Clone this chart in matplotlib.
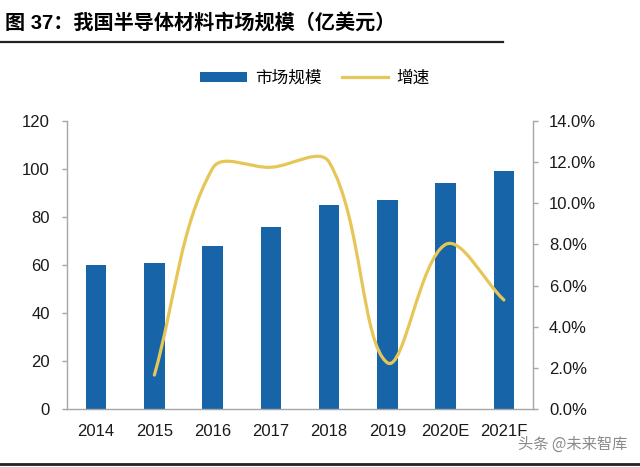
import numpy as np
import matplotlib
matplotlib.use("Agg")
import matplotlib.pyplot as plt
from matplotlib.path import Path
from matplotlib.patches import PathPatch
from matplotlib.lines import Line2D

plt.rcParams["font.family"] = ["Liberation Sans", "Noto Sans CJK SC"]

# -----------------------------
# Data
# -----------------------------
years = ["2014", "2015", "2016", "2017", "2018", "2019", "2020E", "2021F"]
market_size = [60, 61, 68, 76, 85, 87, 94, 99]            # 亿美元
growth = [None, 1.65, 11.7, 11.75, 12.0, 2.25, 8.0, 5.3]  # %

BAR_COLOUR = "#1764A8"
LINE_COLOUR = "#E6C656"
AXIS_GREY = "#A6A6A6"

fig = plt.figure(figsize=(6.4, 4.67), dpi=100)
ax1 = fig.add_axes([67 / 640, 1 - 409 / 467, 466 / 640, 288 / 467])
ax2 = ax1.twinx()

x = np.arange(len(years))
bars = ax1.bar(x, market_size, width=0.35, color=BAR_COLOUR, zorder=2)

ax1.set_xlim(-0.5, len(years) - 0.5)
ax1.set_ylim(0, 120)
ax1.set_yticks(range(0, 121, 20))
ax1.set_xticks(x)
ax1.set_xticklabels(years)
ax2.set_ylim(0, 14)
ax2.set_yticks(range(0, 15, 2))
ax2.set_yticklabels([f"{v:.1f}%" for v in range(0, 15, 2)])

for a in (ax1, ax2):
    a.spines["top"].set_visible(False)
    for s in ("left", "right", "bottom"):
        a.spines[s].set_color(AXIS_GREY)
        a.spines[s].set_linewidth(1.0)
ax1.spines["right"].set_visible(False)
ax2.spines["left"].set_visible(False)
ax2.spines["bottom"].set_visible(False)

ax1.tick_params(axis="x", length=0, pad=11, labelsize=12, colors="#1a1a1a")
ax1.tick_params(axis="y", length=3.5, width=1, color=AXIS_GREY, pad=9,
                labelsize=12, labelcolor="#1a1a1a")
ax2.tick_params(axis="y", length=3.5, width=1, color=AXIS_GREY, pad=8,
                labelsize=12, labelcolor="#1a1a1a")

# -----------------------------
# Smoothed growth line (bezier through the data points, Excel-like)
# -----------------------------
gx = [i for i, g in enumerate(growth) if g is not None]
gy = [g for g in growth if g is not None]
sx, sy = 58.25, 20.57   # pixels per category / per percent
k = 0.36                # smoothing tension
P = np.column_stack([np.array(gx) * sx, np.array(gy) * sy])
n = len(P)
verts = [P[0]]
codes = [Path.MOVETO]
for i in range(n - 1):
    p0 = P[i - 1] if i > 0 else P[i]
    p1, p2 = P[i], P[i + 1]
    p3 = P[i + 2] if i + 2 < n else P[i + 1]
    d01 = np.linalg.norm(p1 - p0)
    d12 = np.linalg.norm(p2 - p1)
    d23 = np.linalg.norm(p3 - p2)
    c1 = p1 + (p2 - p0) * d12 / (d01 + d12) * k
    c2 = p2 - (p3 - p1) * d12 / (d12 + d23) * k
    verts += [c1, c2, p2]
    codes += [Path.CURVE4] * 3
verts = np.array(verts) / [sx, sy]
ax2.add_patch(PathPatch(Path(verts, codes), fill=False, edgecolor=LINE_COLOUR,
                        linewidth=2.3, capstyle="round", zorder=3))

# -----------------------------
# Legend, title, decorations
# -----------------------------
line_handle = Line2D([], [], color=LINE_COLOUR, linewidth=2.3)
fig.legend([bars, line_handle], ["市场规模", "增速"], loc="center",
           bbox_to_anchor=(315 / 640, 1 - 78 / 467), ncol=2, frameon=False,
           fontsize=12, handlelength=2.8, handleheight=0.6, columnspacing=1.2,
           handletextpad=0.5)

fig.text(5 / 640, 1 - 24 / 467, "图 37：我国半导体材料市场规模（亿美元）",
         fontsize=14.5, fontweight="bold", va="center", ha="left",
         family=["Liberation Sans", "Noto Sans CJK SC"])
fig.add_artist(Line2D([0, 503 / 640], [1 - 42 / 467] * 2, color="#222222", linewidth=1.6))
fig.add_artist(Line2D([0, 1], [1 - 464 / 467] * 2, color="#222222", linewidth=2))

fig.text(627 / 640, 1 - 444 / 467, "头条 @未来智库", fontsize=11, ha="right",
         va="center", color="#8a8a8a", family=["Noto Sans CJK SC"])

plt.savefig("out.png", dpi=100)
